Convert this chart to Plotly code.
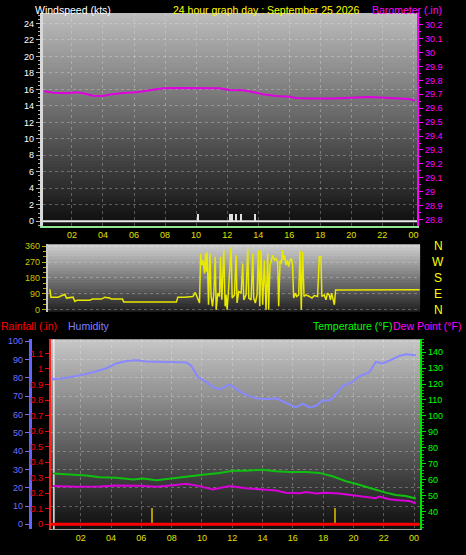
import plotly.graph_objects as go

W, H = 466, 555

# ---------------- data ----------------
hour_ticks = [2, 4, 6, 8, 10, 12, 14, 16, 18, 20, 22, 24]
hour_labels = ["02", "04", "06", "08", "10", "12", "14", "16", "18", "20", "22", "00"]

wind_ticks = [0, 2, 4, 6, 8, 10, 12, 14, 16, 18, 20, 22, 24]
baro_ticks = [28.8, 28.9, 29.0, 29.1, 29.2, 29.3, 29.4, 29.5, 29.6, 29.7, 29.8, 29.9, 30.0, 30.1, 30.2]
baro_labels = ["28.8", "28.9", "29", "29.1", "29.2", "29.3", "29.4", "29.5", "29.6", "29.7",
               "29.8", "29.9", "30", "30.1", "30.2"]
dir_ticks = [0, 90, 180, 270, 360]
compass_labels = ["N", "W", "S", "E", "N"]
compass_dirs = [360, 270, 180, 90, 0]
rain_ticks = [0, 0.1, 0.2, 0.3, 0.4, 0.5, 0.6, 0.7, 0.8, 0.9, 1.0, 1.1]
rain_labels = ["0", "0.1", "0.2", "0.3", "0.4", "0.5", "0.6", "0.7", "0.8", "0.9", "1", "1.1"]
hum_ticks = [0, 10, 20, 30, 40, 50, 60, 70, 80, 90, 100]
temp_ticks = [40, 50, 60, 70, 80, 90, 100, 110, 120, 130, 140]

wind_avg_hours = [0.13, 24.24]
wind_avg = [0, 0]
gust_hours = [10.14, 12.2, 12.3, 12.58, 12.9, 13.83]
gust_vals = [0.9, 0.9, 0.9, 0.9, 0.9, 0.9]

baro_hours = [0.21, 0.79, 1.65, 2.29, 2.72, 3.36, 4.01, 4.44, 5.29, 6.15, 6.8, 7.44, 7.87, 8.72,
              10.23, 11.51, 12.15, 13.01, 13.65, 14.3, 15.16, 16.01, 16.44, 17.3, 18.8, 19.87,
              20.94, 21.16, 21.8, 22.44, 22.87, 23.73, 24.1]
baro_vals = [29.722, 29.712, 29.707, 29.714, 29.707, 29.69, 29.688, 29.698, 29.71, 29.714, 29.726,
             29.733, 29.743, 29.745, 29.745, 29.743, 29.731, 29.729, 29.717, 29.70, 29.688, 29.683,
             29.674, 29.67, 29.67, 29.674, 29.676, 29.681, 29.678, 29.676, 29.672, 29.667, 29.655]

dir_hours = [0.13, 0.2, 0.67, 0.9, 1.11, 1.22, 1.65, 1.77, 1.92, 2.75, 2.92, 3.51, 3.73, 4.05,
             4.17, 4.89, 4.97, 8.42, 8.52, 8.96, 9.51, 9.66, 9.83, 9.94, 10.01, 10.09, 10.18,
             10.27, 10.33, 10.40, 10.44, 10.49, 10.53, 10.62, 10.70, 10.79, 10.88, 10.97, 11.03,
             11.14, 11.25, 11.31, 11.40, 11.53, 11.62, 11.68, 11.75, 11.84, 12.01, 12.08, 12.23,
             12.34, 12.40, 12.51, 12.67, 12.77, 12.84, 12.99, 13.10, 13.17, 13.32, 13.43, 13.49,
             13.60, 13.71, 13.80, 13.89, 13.97, 14.08, 14.19, 14.30, 14.41, 14.47, 14.56, 14.65,
             14.74, 14.85, 14.96, 15.06, 15.13, 15.22, 15.30, 15.39, 15.46, 15.52, 15.61, 15.70,
             15.78, 15.87, 15.96, 16.04, 16.11, 16.22, 16.31, 16.44, 16.53, 16.61, 16.70, 16.79,
             16.92, 17.14, 17.31, 17.46, 17.68, 17.79, 17.90, 17.96, 18.12, 18.23, 18.33, 18.44,
             18.52, 18.60, 18.78, 18.86, 24.37]
dir_vals = [116, 71, 71, 79, 88, 66, 71, 47, 54, 54, 60, 60, 71, 66,
            60, 60, 43, 43, 71, 71, 75, 98, 66, 38, 319, 253, 281,
            206, 319, 216, 328, 56, 28, 319, 75, 19, 94, 300, 0,
            94, 75, 300, 56, 338, 19, 84, 0, 113, 356, 66, 84,
            309, 38, 103, 94, 262, 56, 84, 347, 66, 56, 319, 66,
            38, 84, 338, 19, 338, 28, 281, 0, 319, 0, 253, 291,
            309, 281, 291, 272, 19, 281, 262, 338, 281, 309, 253, 281,
            244, 281, 291, 253, 66, 94, 75, 84, 338, 0, 328, 75,
            84, 75, 66, 80, 75, 300, 300, 75, 84, 56, 94, 84,
            56, 94, 28, 112, 113]

hum_hours = [0.07, 0.18, 1.06, 1.94, 2.81, 3.7, 4.35, 5.01, 5.67, 6.33, 6.99, 8.08, 8.97, 9.29,
             9.73, 10.28, 10.72, 11.16, 11.82, 12.48, 12.92, 13.58, 14.24, 14.9, 15.55, 16.21,
             16.65, 17.09, 17.53, 17.96, 18.41, 18.62, 19.28, 19.94, 20.38, 21.04, 21.48, 21.92,
             22.58, 23.02, 23.46, 24.12]
hum_vals = [80.5, 79.2, 80.1, 81.4, 83.1, 85.3, 87.9, 89.3, 89.7, 89.0, 88.8, 88.8, 88.5, 86.7,
            80.5, 77.8, 75.1, 73.7, 76.4, 72.8, 70.7, 68.9, 68.4, 68.9, 66.6, 63.9,
            65.9, 63.9, 64.8, 67.7, 67.7, 68.9, 75.5, 77.8, 80.8, 83.1, 88.8, 87.9,
            90.2, 92.0, 92.9, 92.4]

temp_hours = [0.18, 1.72, 2.38, 3.25, 4.35, 5.45, 6.11, 6.99, 7.87, 8.97, 10.06, 11.16, 12.04,
              12.92, 14.01, 14.9, 15.77, 16.87, 17.75, 18.62, 19.51, 20.16, 20.82, 21.48, 22.14,
              22.8, 23.46, 24.12]
temp_vals = [63.8, 63.1, 62.5, 61.5, 61.1, 60.0, 60.7, 59.6, 60.7, 62.1, 63.1, 64.2, 65.6,
             65.6, 66.2, 65.2, 64.8, 64.8, 64.2, 62.1, 59.0, 57.4, 55.3, 53.6, 51.8,
             50.3, 49.7, 48.1]

dew_hours = [0.18, 1.72, 3.25, 4.35, 5.89, 6.99, 8.08, 8.97, 9.84, 10.72, 11.82, 12.92, 14.01,
             14.9, 15.55, 16.43, 16.87, 17.53, 18.19, 19.06, 19.94, 20.82, 21.48, 21.7, 22.36,
             23.02, 23.68, 24.12]
dew_vals = [55.9, 55.5, 55.7, 56.3, 56.1, 55.5, 56.5, 57.4, 55.9, 53.8, 55.9, 54.5, 53.8,
            53.2, 51.8, 51.4, 52.2, 51.2, 51.8, 51.2, 50.1, 49.1, 48.3, 49.3, 47.6,
            47.0, 46.6, 45.0]

rain_hours = [0.03, 24.36]
rain_vals = [0, 0]
rain_event_hours = [6.72, 18.78]
rain_event_vals = [0.1, 0.1]

# ---------------- helpers ----------------
def xd(a, b):
    return [a / W, b / W]

def yd(top, bottom):
    return [(H - bottom) / H, (H - top) / H]

FONT = "Liberation Sans, Arial, sans-serif"
GRID = "rgba(235,235,235,0.30)"
HOURC = "#e0e000"

fig = go.Figure()

# Panel 1
fig.add_trace(go.Scatter(x=wind_avg_hours, y=wind_avg, mode="lines",
                         line=dict(color="#e8e8e8", width=2), xaxis="x", yaxis="y"))
fig.add_trace(go.Bar(x=gust_hours, y=gust_vals, width=0.1, marker=dict(color="#e0e0e0", line=dict(width=0)),
                     xaxis="x", yaxis="y"))
fig.add_trace(go.Scatter(x=baro_hours, y=baro_vals, mode="lines", line=dict(color="#e000e0", width=2),
                         xaxis="x", yaxis="y2"))
# Panel 2
fig.add_trace(go.Scatter(x=dir_hours, y=dir_vals, mode="lines", line=dict(color="#e8e800", width=1.5),
                         xaxis="x2", yaxis="y3"))
# Panel 3
fig.add_trace(go.Scatter(x=rain_hours, y=rain_vals, mode="lines", line=dict(color="#ff0000", width=3),
                         xaxis="x3", yaxis="y4"))
fig.add_trace(go.Bar(x=rain_event_hours, y=rain_event_vals, width=0.13,
                     marker=dict(color="#b09800", line=dict(width=0)), xaxis="x3", yaxis="y4"))
fig.add_trace(go.Scatter(x=hum_hours, y=hum_vals, mode="lines", line=dict(color="#8888ff", width=2),
                         xaxis="x3", yaxis="y5"))
fig.add_trace(go.Scatter(x=temp_hours, y=temp_vals, mode="lines", line=dict(color="#10c010", width=2),
                         xaxis="x3", yaxis="y6"))
fig.add_trace(go.Scatter(x=dew_hours, y=dew_vals, mode="lines", line=dict(color="#d800d8", width=2),
                         xaxis="x3", yaxis="y6"))

# gradient backgrounds (overlapping bands to avoid seams)
shapes = []
def gradient(left, right, top, bottom, c_top, c_bot, step=3):
    y = top
    while y < bottom:
        y2 = min(y + step + 1, bottom)
        f = (y - top) / (bottom - top)
        g = int(round(c_top + (c_bot - c_top) * f))
        shapes.append(dict(type="rect", xref="paper", yref="paper", layer="below",
                           x0=left / W, x1=right / W, y0=(H - y2) / H, y1=(H - y) / H,
                           fillcolor=f"rgb({g},{g},{g})", line=dict(width=0)))
        y += step

gradient(43, 418, 10, 225, 188, 12)
gradient(48, 421, 244, 312, 205, 28)
gradient(51, 421, 340, 532, 198, 12)
# light inner border line at the left of the rain panel
shapes.append(dict(type="line", xref="paper", yref="paper", layer="below",
                   x0=54 / W, x1=54 / W, y0=(H - 532) / H, y1=(H - 340) / H,
                   line=dict(color="#e8e8e8", width=1.5)))

tf = dict(family=FONT, size=9)

layout = dict(
    width=W, height=H, margin=dict(l=0, r=0, t=0, b=0),
    paper_bgcolor="black", plot_bgcolor="rgba(0,0,0,0)", showlegend=False,
    bargap=0, shapes=shapes,
    xaxis=dict(domain=xd(43, 418), range=[0.13, 24.24], anchor="y",
               tickvals=hour_ticks, ticktext=hour_labels, tickfont=dict(tf, color=HOURC),
               ticks="", showgrid=True, gridcolor=GRID, griddash="dot", gridwidth=1,
               showline=True, linecolor="#90e890", linewidth=2, zeroline=False),
    yaxis=dict(domain=yd(10, 225), range=[-0.52, 25.28], anchor="x",
               tickvals=wind_ticks, tickfont=dict(tf, color="white"),
               ticks="outside", ticklen=4, tickcolor="#b0b0b0",
               minor=dict(dtick=0.5, ticks="outside", ticklen=2, tickcolor="#b0b0b0", showgrid=False),
               showline=True, linecolor="#d8d8d8", linewidth=3,
               showgrid=True, gridcolor=GRID, griddash="dot", zeroline=False),
    yaxis2=dict(overlaying="y", side="right", anchor="x", range=[28.757, 30.285],
                tickvals=baro_ticks, ticktext=baro_labels, tickfont=dict(tf, color="#ff00ff"),
                ticks="outside", ticklen=4, tickcolor="#ff00ff",
                minor=dict(dtick=0.05, ticks="outside", ticklen=2, tickcolor="#ff00ff", showgrid=False),
                showline=True, linecolor="#ff00ff", linewidth=2, showgrid=False, zeroline=False),
    xaxis2=dict(domain=xd(48, 421), range=[0, 24.4], anchor="y3", showticklabels=False,
                showgrid=False, showline=False, zeroline=False, ticks=""),
    yaxis3=dict(domain=yd(244, 312), range=[-11, 371], anchor="x2",
                tickvals=dir_ticks, tickfont=dict(tf, color="#c8c800"),
                ticks="outside", ticklen=4, tickcolor="#b0b000",
                minor=dict(dtick=30, ticks="outside", ticklen=3, tickcolor="#b0b000", showgrid=False),
                showline=True, linecolor="#c8c8c8", linewidth=2,
                showgrid=True, gridcolor=GRID, griddash="dot", zeroline=False),
    xaxis3=dict(domain=xd(51, 421), range=[0.03, 24.4], anchor="y4",
                tickvals=hour_ticks, ticktext=hour_labels, tickfont=dict(tf, color=HOURC),
                ticks="", showgrid=True, gridcolor=GRID, griddash="dot",
                showline=True, linecolor="#a0a0a0", linewidth=1, zeroline=False),
    yaxis4=dict(domain=yd(340, 532), range=[-0.032, 1.191], anchor="x3", side="left",
                tickvals=rain_ticks, ticktext=rain_labels, tickfont=dict(tf, color="#ff0000"),
                ticks="outside", ticklen=4, tickcolor="#ff0000",
                showline=True, linecolor="#ff2020", linewidth=2, showgrid=False, zeroline=False),
    yaxis5=dict(overlaying="y4", anchor="free", position=30 / W, side="left",
                range=[-2.7, 101.1], tickvals=hum_ticks, tickfont=dict(tf, color="#7070ff"),
                ticks="outside", ticklen=4, tickcolor="#7070ff",
                showline=True, linecolor="#6464ff", linewidth=3,
                showgrid=True, gridcolor=GRID, griddash="dot", zeroline=False),
    yaxis6=dict(overlaying="y4", anchor="x3", side="right",
                range=[28.8, 148.1], tickvals=temp_ticks, tickfont=dict(tf, color="#00ff00"),
                ticks="outside", ticklen=4, tickcolor="#00e000",
                minor=dict(dtick=2, ticks="outside", ticklen=2, tickcolor="#00c000", showgrid=False),
                showline=True, linecolor="#00e000", linewidth=2, showgrid=False, zeroline=False),
)
fig.update_layout(**layout)

def title(text, x, y, color, size=10.5):
    fig.add_annotation(text=text, xref="paper", yref="paper", x=x / W, y=(H - y) / H,
                       xanchor="left", yanchor="middle", showarrow=False,
                       font=dict(family=FONT, size=size, color=color))

title("Windspeed (kts)", 33, 7, "white")
title("24 hour graph day : September 25 2026", 171, 7, "#ffff00")
title("Barometer (.in)", 371, 7, "#ff00ff")
title("Rainfall (.in)", -1, 327, "#ff0000")
title("Humidity", 66, 327, "#8080ff")
title("Temperature (°F)", 312, 327, "#00ff00")
title("Dew Point (°F)", 392, 327, "#ff00ff")

for lab, d in zip(compass_labels, compass_dirs):
    fig.add_annotation(text=lab, xref="paper", yref="y3", x=439 / W, y=d, xanchor="center",
                       yanchor="middle", showarrow=False,
                       font=dict(family=FONT, size=12, color="#ffff00"))

fig.write_html("out.html", config={"displayModeBar": False},
               post_script="document.body.style.margin='0';document.body.style.overflow='hidden';")
